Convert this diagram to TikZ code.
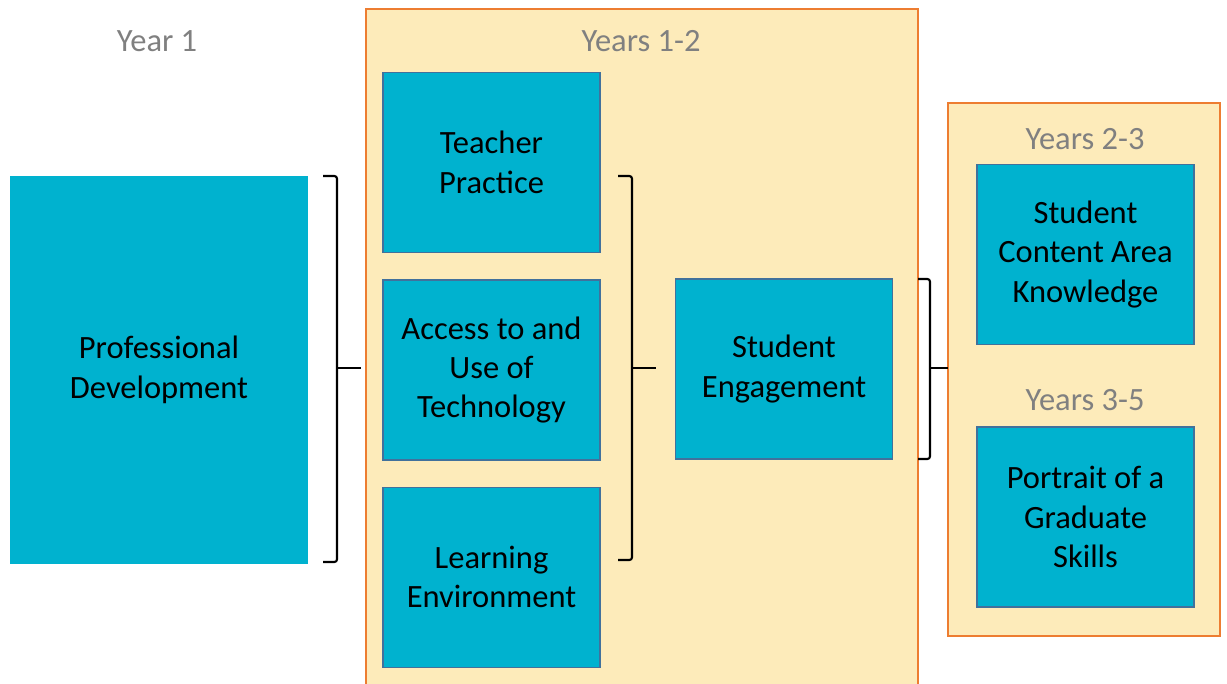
\documentclass[tikz,border=0pt]{standalone}
\usepackage{fontspec}
\setmainfont{Carlito}
\usetikzlibrary{positioning}

\definecolor{boxcyan}{HTML}{00B2CF}
\definecolor{boxedge}{HTML}{41719C}
\definecolor{panelfill}{HTML}{FDEBBA}
\definecolor{paneledge}{HTML}{ED7D31}
\definecolor{labelgray}{HTML}{808080}

\begin{document}
\begin{tikzpicture}[
    x=0.02cm, y=-0.02cm,
    box_style/.style={rectangle, draw=boxedge, line width=0.8pt, fill=boxcyan, minimum width=4.34cm, minimum height=3.6cm, inner sep=0pt, align=center, font=\fontsize{18.5}{22.4}\selectfont},
    big_box_style/.style={rectangle, fill=boxcyan, minimum width=5.96cm, minimum height=7.76cm, inner sep=0pt, align=center, font=\fontsize{18.5}{22.4}\selectfont},
    panel_style/.style={rectangle, draw=paneledge, line width=1pt, fill=panelfill, inner sep=0pt},
    year_label_style/.style={font=\fontsize{18.5}{22.4}\selectfont, text=labelgray},
    bracket_style/.style={black, line width=1.2pt, rounded corners=1.5pt}
]
\useasboundingbox (0,0) rectangle (1227,683);

% Panels behind the boxes
\node[panel_style, minimum width=11.04cm, minimum height=13.68cm] (panel_a) at (642,351) {};
\node[panel_style, minimum width=5.44cm, minimum height=10.66cm] (panel_b) at (1084,369.5) {};

% Year labels
\node[year_label_style] (lbl_y1) at (157,41) {Year 1};
\node[year_label_style] (lbl_y12) at (641,41) {Years 1-2};
\node[year_label_style] (lbl_y23) at (1085,139) {Years 2-3};
\node[year_label_style] (lbl_y35) at (1085,400) {Years 3-5};

% Year 1
\node[big_box_style] (prof_dev) at (159,370) {Professional\\Development};

% Years 1-2 column
\node[box_style] (teacher) at (491.5,162.5) {Teacher\\Practice};
\node[box_style, below=0.52cm of teacher] (tech) {Access to and\\Use of\\Technology};
\node[box_style, below=0.52cm of tech] (learn_env) {Learning\\Environment};
\node[box_style] (engage) at (784,369) {Student\\Engagement};

% Later years
\node[box_style] (knowledge) at (1085.5,254.5) {Student\\Content Area\\Knowledge};
\node[box_style] (portrait) at (1085.5,517) {Portrait of a\\Graduate\\Skills};

% Bracket corners
\coordinate (br1_top) at (323,176);
\coordinate (br1_bot) at (323,562);
\coordinate (br1_mid) at (337,368);
\coordinate (br1_tip) at (361,368);
\coordinate (br2_top) at (618,176);
\coordinate (br2_bot) at (618,560);
\coordinate (br2_mid) at (632,368);
\coordinate (br2_tip) at (656,368);
\coordinate (br3_top) at (918,279);
\coordinate (br3_bot) at (918,459);
\coordinate (br3_mid) at (930,368);
\coordinate (br3_tip) at (948,368);

% Brackets
\draw[bracket_style] (br1_top) -| (br1_mid) |- (br1_bot);
\draw[bracket_style] (br1_mid) -- (br1_tip);
\draw[bracket_style] (br2_top) -| (br2_mid) |- (br2_bot);
\draw[bracket_style] (br2_mid) -- (br2_tip);
\draw[bracket_style] (br3_top) -| (br3_mid) |- (br3_bot);
\draw[bracket_style] (br3_mid) -- (br3_tip);

\end{tikzpicture}
\end{document}
